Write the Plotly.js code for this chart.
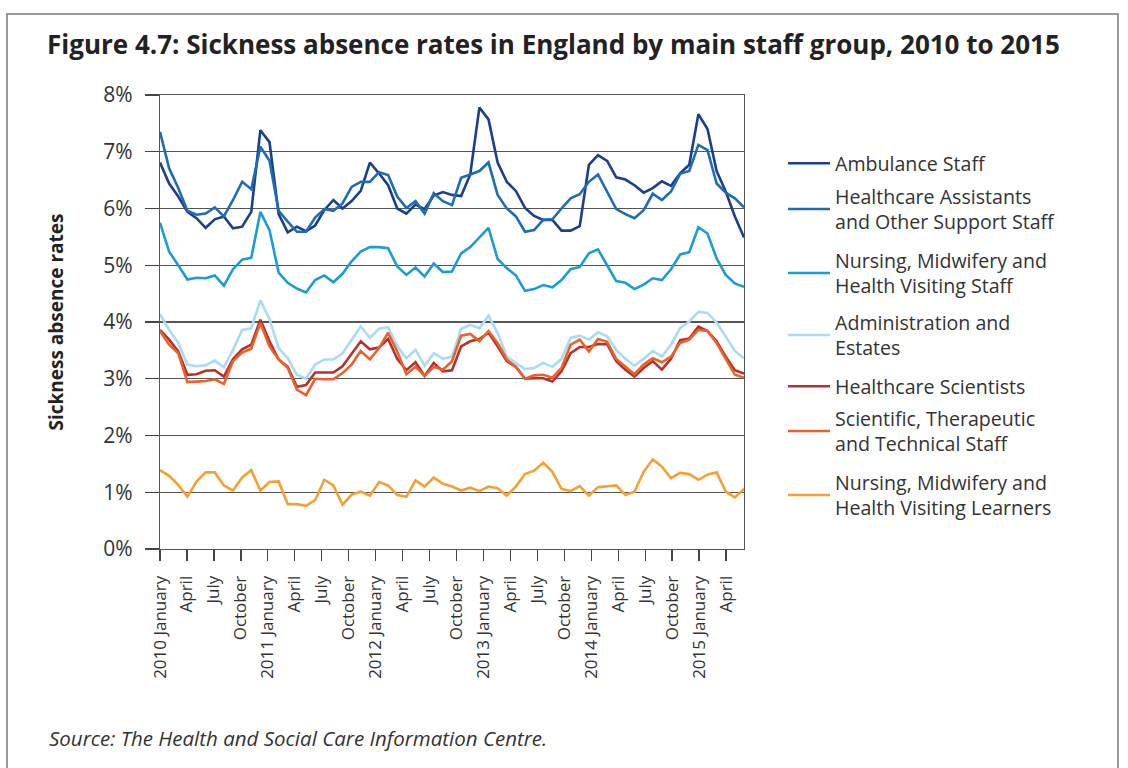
<!DOCTYPE html>
<html>
<head>
<meta charset="utf-8">
<script src="https://cdn.plot.ly/plotly-3.0.1.min.js"></script>
<style>
html,body{margin:0;padding:0;background:#ffffff;}
#chart{width:1128px;height:768px;}
</style>
</head>
<body>
<div id="chart"></div>
<script>
// Months plotted (Jan 2010 - May 2015)
const months = [
 '2010-01','2010-02','2010-03','2010-04','2010-05','2010-06','2010-07','2010-08','2010-09','2010-10','2010-11','2010-12',
 '2011-01','2011-02','2011-03','2011-04','2011-05','2011-06','2011-07','2011-08','2011-09','2011-10','2011-11','2011-12',
 '2012-01','2012-02','2012-03','2012-04','2012-05','2012-06','2012-07','2012-08','2012-09','2012-10','2012-11','2012-12',
 '2013-01','2013-02','2013-03','2013-04','2013-05','2013-06','2013-07','2013-08','2013-09','2013-10','2013-11','2013-12',
 '2014-01','2014-02','2014-03','2014-04','2014-05','2014-06','2014-07','2014-08','2014-09','2014-10','2014-11','2014-12',
 '2015-01','2015-02','2015-03','2015-04','2015-05'
];

// Axis tick labels (every third month)
const tickLabels = [
 '2010 January','April','July','October',
 '2011 January','April','July','October',
 '2012 January','April','July','October',
 '2013 January','April','July','October',
 '2014 January','April','July','October',
 '2015 January','April'
];

const seriesNames = [
 'Ambulance Staff',
 'Healthcare Assistants<br>and Other Support Staff',
 'Nursing, Midwifery and<br>Health Visiting Staff',
 'Administration and<br>Estates',
 'Healthcare Scientists',
 'Scientific, Therapeutic<br>and Technical Staff',
 'Nursing, Midwifery and<br>Health Visiting Learners'
];

const ambulance = [6.81,6.44,6.21,5.94,5.83,5.66,5.81,5.86,5.65,5.68,5.94,7.38,
 7.17,5.90,5.58,5.68,5.60,5.70,5.97,6.15,6.00,6.13,6.31,6.81,
 6.62,6.41,6.00,5.91,6.07,5.99,6.23,6.29,6.24,6.22,6.60,7.78,
 7.57,6.81,6.47,6.31,6.01,5.87,5.80,5.80,5.61,5.61,5.69,6.77,
 6.94,6.84,6.55,6.51,6.41,6.28,6.36,6.48,6.40,6.62,6.77,7.66,
 7.40,6.66,6.30,5.86,5.49];

const healthcareAssistants = [7.35,6.71,6.36,5.96,5.89,5.91,6.02,5.86,6.15,6.47,6.34,7.09,
 6.84,5.96,5.77,5.59,5.59,5.84,5.99,5.96,6.09,6.38,6.47,6.47,
 6.64,6.59,6.21,6.01,6.13,5.91,6.27,6.13,6.06,6.54,6.60,6.66,
 6.81,6.24,6.00,5.86,5.59,5.62,5.80,5.81,6.00,6.18,6.25,6.47,
 6.60,6.30,5.99,5.90,5.83,5.97,6.26,6.15,6.30,6.61,6.66,7.12,
 7.03,6.44,6.28,6.18,6.02];

const nursingStaff = [5.75,5.24,5.00,4.75,4.78,4.77,4.82,4.64,4.93,5.10,5.13,5.94,
 5.62,4.87,4.69,4.59,4.52,4.74,4.82,4.70,4.85,5.07,5.24,5.32,
 5.32,5.30,4.98,4.83,4.96,4.80,5.03,4.88,4.89,5.21,5.32,5.50,
 5.66,5.11,4.95,4.82,4.55,4.58,4.65,4.61,4.74,4.93,4.97,5.21,
 5.28,5.00,4.72,4.69,4.58,4.66,4.77,4.74,4.93,5.19,5.23,5.67,
 5.56,5.12,4.83,4.68,4.62];

const administration = [4.14,3.86,3.63,3.25,3.22,3.24,3.32,3.20,3.51,3.86,3.89,4.38,
 4.05,3.54,3.36,3.07,3.00,3.25,3.34,3.34,3.45,3.69,3.92,3.72,
 3.88,3.91,3.57,3.36,3.51,3.23,3.45,3.35,3.39,3.88,3.95,3.89,
 4.11,3.81,3.39,3.28,3.17,3.19,3.28,3.21,3.35,3.72,3.76,3.69,
 3.82,3.75,3.51,3.35,3.23,3.35,3.49,3.39,3.60,3.89,4.01,4.18,
 4.16,3.99,3.75,3.49,3.36];

const healthcareScientists = [3.86,3.69,3.48,3.07,3.08,3.14,3.15,3.04,3.35,3.52,3.60,4.04,
 3.66,3.34,3.21,2.86,2.89,3.11,3.11,3.11,3.22,3.44,3.66,3.52,
 3.55,3.70,3.35,3.15,3.29,3.05,3.28,3.13,3.15,3.57,3.66,3.70,
 3.81,3.57,3.31,3.21,3.00,3.01,3.01,2.95,3.13,3.45,3.56,3.56,
 3.61,3.61,3.31,3.16,3.04,3.19,3.31,3.16,3.35,3.68,3.71,3.92,
 3.84,3.66,3.39,3.15,3.09];

const scientificTechnical = [3.84,3.60,3.45,2.94,2.95,2.96,2.99,2.91,3.31,3.46,3.53,3.98,
 3.57,3.34,3.19,2.81,2.71,3.00,2.99,2.99,3.10,3.25,3.49,3.34,
 3.54,3.81,3.48,3.08,3.21,3.05,3.21,3.16,3.31,3.76,3.79,3.66,
 3.84,3.63,3.34,3.21,3.00,3.06,3.07,3.02,3.19,3.60,3.69,3.48,
 3.70,3.65,3.35,3.22,3.08,3.25,3.36,3.29,3.39,3.63,3.69,3.86,
 3.84,3.63,3.34,3.07,3.02];

const nursingLearners = [1.39,1.29,1.13,0.92,1.19,1.35,1.35,1.12,1.03,1.26,1.39,1.03,
 1.18,1.19,0.79,0.79,0.76,0.86,1.22,1.12,0.78,0.96,1.01,0.94,
 1.18,1.12,0.95,0.92,1.21,1.10,1.26,1.15,1.10,1.03,1.08,1.02,
 1.10,1.07,0.94,1.10,1.32,1.38,1.52,1.36,1.06,1.02,1.11,0.94,
 1.09,1.10,1.12,0.95,1.01,1.36,1.58,1.45,1.25,1.34,1.32,1.22,
 1.31,1.35,1.01,0.91,1.06];

const seriesValues = [ambulance, healthcareAssistants, nursingStaff, administration,
  healthcareScientists, scientificTechnical, nursingLearners];
const seriesColors = ['#1b3f8b','#1d6cb4','#1b9bd8','#a8dcf5','#b8302a','#e9622b','#f5a033'];

const FONT = '"Open Sans", "Noto Sans", "DejaVu Sans", sans-serif';

// plot-area pixel box, for placing decorations
const L = 160, R = 744, T = 95, B = 549;
const px2x = p => (p - L) / (R - L);
const px2y = p => (B - p) / (B - T);

// legend entries: pixel row of each entry's first line
const legendRows = [162, 195, 259, 321, 385, 417, 481];
const legendIds = ['legend','legend2','legend3','legend4','legend5','legend6','legend7'];

const traces = seriesValues.map((vals, k) => ({
  type: 'scatter',
  mode: 'lines',
  x: months,
  y: vals,
  name: seriesNames[k],
  legend: legendIds[k],
  line: {color: seriesColors[k], width: 2.6},
  hoverinfo: 'skip'
}));
// carrier for the month label axis
traces.push({type: 'scatter', mode: 'lines', x: [], y: [], xaxis: 'x2', yaxis: 'y',
  showlegend: false, hoverinfo: 'skip'});

const layout = {
  width: 1128,
  height: 768,
  paper_bgcolor: '#ffffff',
  plot_bgcolor: '#ffffff',
  margin: {l: L, r: 1128 - R, t: T, b: 768 - B, pad: 0},
  font: {family: FONT, color: '#333333'},
  showlegend: true,
  title: {
    text: '<b>Figure 4.7: Sickness absence rates in England by main staff group, 2010 to 2015</b>',
    font: {family: FONT, size: 26, color: '#222222'},
    x: 47 / 1128, xanchor: 'left', xref: 'container',
    y: 1 - 45 / 768, yanchor: 'middle', yref: 'container'
  },
  xaxis: {
    type: 'category',
    range: [0, months.length - 1],
    showticklabels: false,
    ticks: '',
    showgrid: false,
    zeroline: false,
    showline: true,
    mirror: true,
    linecolor: '#555555',
    linewidth: 1.3,
    fixedrange: true
  },
  xaxis2: {
    overlaying: 'x',
    anchor: 'y',
    side: 'bottom',
    type: 'linear',
    range: [0, 65],
    tickmode: 'array',
    tickvals: tickLabels.map((_, k) => 3 * k),
    ticktext: tickLabels,
    ticks: 'outside',
    ticklen: 11,
    tickwidth: 1.3,
    tickcolor: '#444444',
    tickangle: -90,
    ticklabelstandoff: 8,
    tickfont: {family: FONT, size: 17, color: '#333333'},
    showgrid: false,
    zeroline: false,
    showline: false,
    fixedrange: true
  },
  yaxis: {
    range: [0, 8],
    tickmode: 'linear',
    tick0: 0,
    dtick: 1,
    ticksuffix: '%',
    ticks: 'outside',
    ticklen: 14,
    tickwidth: 1.3,
    tickcolor: '#444444',
    ticklabelstandoff: 8,
    tickfont: {family: FONT, size: 21, color: '#333333'},
    showgrid: true,
    gridcolor: '#555555',
    gridwidth: 1.2,
    zeroline: false,
    showline: true,
    mirror: true,
    linecolor: '#555555',
    linewidth: 1.3,
    title: {
      text: '<b>Sickness absence rates</b>',
      font: {family: FONT, size: 19, color: '#222222'},
      standoff: 34
    },
    fixedrange: true
  },
  annotations: [{
    text: '<i>Source: The Health and Social Care Information Centre.</i>',
    xref: 'paper', yref: 'paper',
    x: px2x(47), xanchor: 'left',
    y: px2y(738), yanchor: 'middle',
    showarrow: false,
    font: {family: FONT, size: 20.5, color: '#333333'}
  }],
  shapes: [{
    type: 'rect', xref: 'paper', yref: 'paper',
    x0: px2x(7), x1: px2x(1118), y0: px2y(790), y1: px2y(14),
    line: {color: '#7a7a7a', width: 1.5},
    fillcolor: 'rgba(0,0,0,0)',
    layer: 'below'
  }]
};

legendIds.forEach((id, k) => {
  layout[id] = {
    x: px2x(783), xanchor: 'left',
    y: px2y(legendRows[k] - 18), yanchor: 'top',
    bgcolor: 'rgba(0,0,0,0)',
    font: {family: FONT, size: 19.6, color: '#333333'},
    itemwidth: 42
  };
});

Plotly.newPlot('chart', traces, layout, {staticPlot: true, displayModeBar: false});
</script>
</body>
</html>
